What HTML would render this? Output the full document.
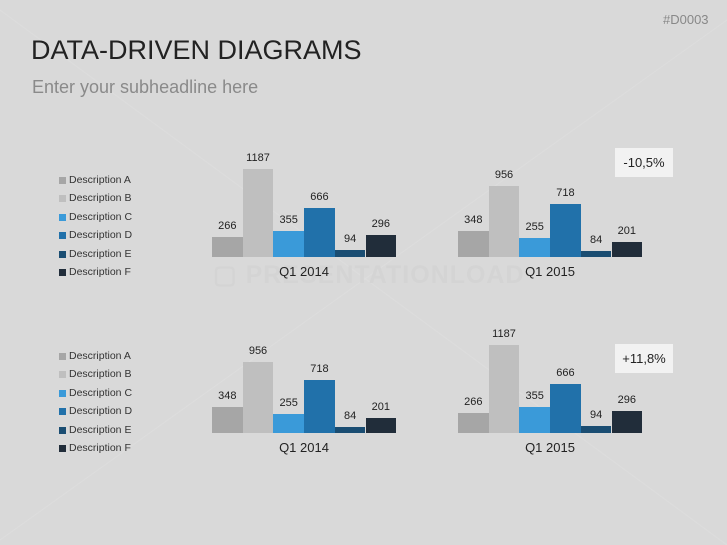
<!DOCTYPE html>
<html><head><style>
body{margin:0;width:727px;height:545px;background:#d9d9d9;font-family:"Liberation Sans",sans-serif;position:relative;overflow:hidden}
.a{position:absolute;white-space:nowrap}
.t{font-size:11px;color:#222;transform:translateX(-50%)}
.lg{font-size:10.5px;color:#333}
.sq{position:absolute;width:7px;height:7px}
</style></head><body>
<svg class="a" style="left:0;top:0" width="727" height="545"><g stroke="#dddddd" stroke-width="1" fill="none"><line x1="0" y1="10" x2="727" y2="545"/><line x1="727" y1="20" x2="0" y2="540"/></g></svg>
<div class="a" style="left:663px;top:12px;font-size:13px;color:#888">#D0003</div>
<div class="a" style="left:31px;top:35px;font-size:27px;color:#222">DATA-DRIVEN DIAGRAMS</div>
<div class="a" style="left:32px;top:77px;font-size:18px;color:#8a8a8a">Enter your subheadline here</div>
<div class="a" style="left:213px;top:260px;font-size:25px;font-weight:bold;color:#d4d4d4;letter-spacing:1px">▢ PRESENTATIONLOAD</div>
<div id="c"></div>
<div class="a" style="left:615px;top:148px;width:58px;height:29px;background:#f2f2f2;font-size:13px;line-height:29px;text-align:center;color:#222">-10,5%</div>
<div class="a" style="left:615px;top:344px;width:58px;height:29px;background:#f2f2f2;font-size:13px;line-height:29px;text-align:center;color:#222">+11,8%</div>
<script>
var cols=["#a6a6a6","#bfbfbf","#3a9ad9","#2171aa","#1a4d72","#212d3a"];
var names=["A","B","C","D","E","F"];
var h="";
function chart(x0,base,vals,label){
 for(var i=0;i<6;i++){var hh=vals[i]*0.0742,x=x0+i*30.7;
  h+='<div class="a" style="left:'+x+'px;top:'+(base-hh)+'px;width:30.7px;height:'+hh+'px;background:'+cols[i]+'"></div>';
  h+='<div class="a t" style="left:'+(x+15.3)+'px;top:'+(base-hh-17)+'px">'+vals[i]+'</div>';}
 h+='<div class="a t" style="left:'+(x0+92)+'px;top:'+(base+7)+'px;font-size:13px">'+label+'</div>';
}
function legend(y0){for(var i=0;i<6;i++){var y=y0+i*18.4;
 h+='<div class="sq" style="left:59px;top:'+(y-4)+'px;background:'+cols[i]+'"></div>';
 h+='<div class="a lg" style="left:69px;top:'+(y-7)+'px">Description '+names[i]+'</div>';}}
chart(212,257,[266,1187,355,666,94,296],"Q1 2014");
chart(458,257,[348,956,255,718,84,201],"Q1 2015");
chart(212,433,[348,956,255,718,84,201],"Q1 2014");
chart(458,433,[266,1187,355,666,94,296],"Q1 2015");
legend(181);legend(357);
document.getElementById("c").innerHTML=h;
</script>
</body></html>
